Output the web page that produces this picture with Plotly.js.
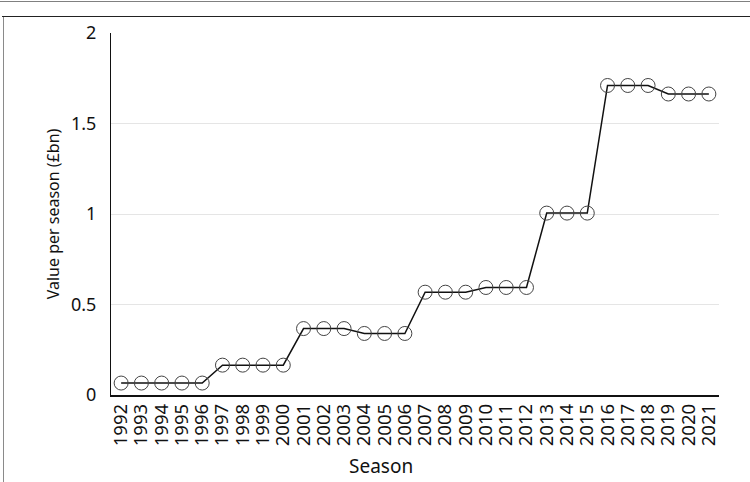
<!DOCTYPE html>
<html>
<head>
<meta charset="utf-8">
<script src="https://cdn.plot.ly/plotly-3.0.1.min.js"></script>
<style>
  html, body { margin: 0; padding: 0; background: #fff; }
  #wrap { position: relative; width: 750px; height: 482px; overflow: hidden; }
  #chart { width: 750px; height: 482px; }
  .deco { position: absolute; pointer-events: none; }
</style>
</head>
<body>
<div id="wrap">
  <div id="chart"></div>
  <div class="deco" style="left:0;top:1px;width:750px;height:1px;background:#808080;"></div>
  <div class="deco" style="left:2px;top:16px;width:748px;height:1px;background:#222;"></div>
  <div class="deco" style="left:3px;top:17px;width:1px;height:465px;background:#8a8a8a;"></div>
</div>
<script>
const seasons = ["1992","1993","1994","1995","1996","1997","1998","1999","2000","2001",
                 "2002","2003","2004","2005","2006","2007","2008","2009","2010","2011",
                 "2012","2013","2014","2015","2016","2017","2018","2019","2020","2021"];
const valuePerSeason = [0.066,0.066,0.066,0.066,0.066,0.165,0.165,0.165,0.165,0.367,
                        0.367,0.367,0.340,0.340,0.340,0.568,0.568,0.568,0.594,0.594,
                        0.594,1.005,1.005,1.005,1.710,1.710,1.710,1.663,1.663,1.663];
const yTicks = [0, 0.5, 1, 1.5, 2];
const yTickText = ["0", "0.5", "1", "1.5", "2"];

const font = "Noto Sans, sans-serif";

Plotly.newPlot("chart", [{
  type: "scatter",
  mode: "lines+markers",
  x: seasons,
  y: valuePerSeason,
  line: { color: "#111", width: 1.5 },
  marker: { symbol: "circle-open", size: 14, color: "#444", line: { width: 1, color: "#444" } },
  showlegend: false,
  hoverinfo: "x+y"
}], {
  width: 750,
  height: 482,
  margin: { l: 111, r: 31, t: 33, b: 87, pad: 0 },
  paper_bgcolor: "rgba(0,0,0,0)",
  plot_bgcolor: "#fff",
  font: { family: font, color: "#111", size: 18 },
  xaxis: {
    type: "category",
    range: [-0.5, 29.5],
    tickmode: "array",
    tickvals: seasons,
    ticktext: seasons,
    tickangle: -90,
    showgrid: false,
    showline: true,
    linecolor: "#111",
    linewidth: 1.5,
    ticks: "",
    tickfont: { family: font, size: 18.5, color: "#111" },
    zeroline: false
  },
  yaxis: {
    range: [0, 2],
    tickvals: yTicks,
    ticktext: yTickText,
    showgrid: true,
    gridcolor: "#e5e5e5",
    gridwidth: 1,
    showline: true,
    linecolor: "#111",
    linewidth: 1,
    ticks: "",
    ticklabelstandoff: 10,
    tickfont: { family: font, size: 18, color: "#111" },
    title: { text: "Value per season (£bn)", font: { family: font, size: 16, color: "#111" }, standoff: 7 },
    zeroline: false
  },
  annotations: [{
    text: "Season",
    xref: "paper", yref: "paper",
    x: 0.444, y: -0.196,
    xanchor: "center", yanchor: "middle",
    showarrow: false,
    font: { family: font, size: 19, color: "#111" }
  }]
}, { displayModeBar: false, staticPlot: true });
</script>
</body>
</html>
